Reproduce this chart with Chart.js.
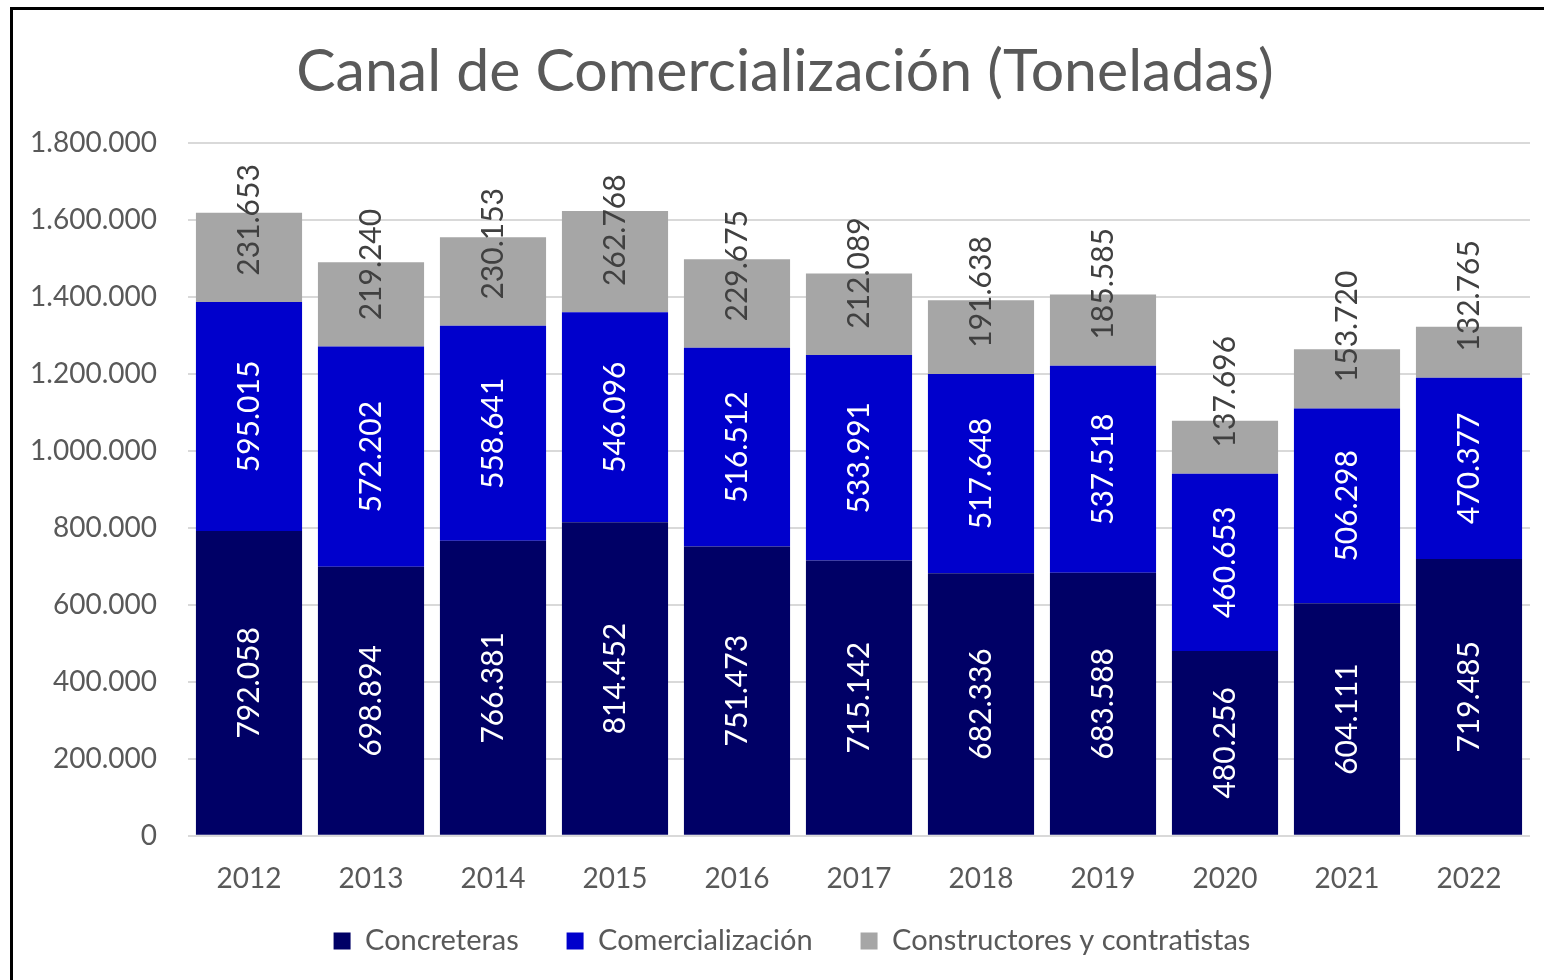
<!DOCTYPE html>
<html>
<head>
<meta charset="utf-8">
<script src="https://cdn.jsdelivr.net/npm/chart.js@4"></script>
<style>
  html, body { margin: 0; padding: 0; background: #fff; overflow: hidden; }
  #wrap { position: absolute; left: 0; top: 0; width: 1570px; height: 980px; }
  #frame { position: absolute; left: 10px; top: 7px; width: 2000px; height: 2000px;
           border-top: 3px solid #000; border-left: 3px solid #000; pointer-events: none; }
</style>
</head>
<body>
<div id="wrap"><canvas id="canalChart" width="1570" height="980"></canvas></div>
<div id="frame"></div>
<script>
const years = ['2012', '2013', '2014', '2015', '2016', '2017', '2018', '2019', '2020', '2021', '2022'];
const concreteras = [792058, 698894, 766381, 814452, 751473, 715142, 682336, 683588, 480256, 604111, 719485];
const comercializacion = [595015, 572202, 558641, 546096, 516512, 533991, 517648, 537518, 460653, 506298, 470377];
const constructores = [231653, 219240, 230153, 262768, 229675, 212089, 191638, 185585, 137696, 153720, 132765];

const FONT = 'Lato, "Open Sans", sans-serif';

// miles con punto: 1.800.000
function fmt(v) {
    return String(Math.round(v)).replace(/\B(?=(\d{3})+(?!\d))/g, '.');
}

// etiquetas de datos verticales dentro de cada segmento
const barLabels = {
    id: 'barLabels',
    afterDatasetsDraw(chart) {
        const ctx = chart.ctx;
        chart.data.datasets.forEach((ds, i) => {
            const meta = chart.getDatasetMeta(i);
            meta.data.forEach((bar, j) => {
                let cy = (bar.y + bar.base) / 2;
                if (i === 2) cy = bar.base - 82;
                ctx.save();
                ctx.translate(bar.x, cy);
                ctx.rotate(-Math.PI / 2);
                ctx.font = '30px ' + FONT;
                ctx.fillStyle = i === 2 ? '#404040' : '#ffffff';
                ctx.textAlign = 'center';
                ctx.textBaseline = 'middle';
                ctx.fillText(fmt(ds.data[j]), 0, 0);
                ctx.restore();
            });
        });
    }
};

// centra título y leyenda como en el original (un poco a la derecha)
const shiftBoxes = {
    id: 'shiftBoxes',
    afterLayout(chart) {
        if (chart.titleBlock) { chart.titleBlock.left += 8; chart.titleBlock.right += 8; }
        if (chart.legend) { chart.legend.left += 15; chart.legend.right += 15; }
    }
};

const ctx = document.getElementById('canalChart').getContext('2d');
const canalChart = new Chart(ctx, {
    type: 'bar',
    data: {
        labels: years,
        datasets: [
            { label: 'Concreteras', data: concreteras, backgroundColor: '#000066' },
            { label: 'Comercialización', data: comercializacion, backgroundColor: '#0000CC' },
            { label: 'Constructores y contratistas', data: constructores, backgroundColor: '#A6A6A6' }
        ]
    },
    options: {
        responsive: false,
        animation: false,
        layout: { padding: { left: 24, right: 40, top: 0, bottom: 14.6 } },
        datasets: { bar: { barPercentage: 0.87, categoryPercentage: 1.0 } },
        plugins: {
            title: {
                display: true,
                text: 'Canal de Comercialización (Toneladas)',
                color: '#595959',
                font: { family: FONT, size: 59, weight: 'normal' },
                padding: { top: 37, bottom: 35.2 }
            },
            legend: {
                position: 'bottom',
                labels: {
                    color: '#595959',
                    font: { family: FONT, size: 29 },
                    boxWidth: 17,
                    boxHeight: 17,
                    padding: 33,
                    generateLabels(chart) {
                        const items = Chart.defaults.plugins.legend.labels.generateLabels(chart);
                        items.forEach((it, k) => {
                            if (k < items.length - 1) it.text = it.text + '  ';
                            it.lineWidth = 0;
                        });
                        return items;
                    }
                }
            },
            tooltip: { enabled: false }
        },
        scales: {
            x: {
                stacked: true,
                grid: { display: false, drawTicks: false },
                border: { display: false },
                ticks: { color: '#595959', font: { family: FONT, size: 28 }, padding: 26 },
                afterFit(axis) { axis.height -= 28; }
            },
            y: {
                stacked: true,
                min: 0,
                max: 1800000,
                grid: { color: '#D9D9D9', lineWidth: 2, drawTicks: false },
                border: { display: false },
                ticks: {
                    stepSize: 200000,
                    color: '#595959',
                    font: { family: FONT, size: 28 },
                    padding: 31,
                    callback: v => fmt(v)
                },
                afterFit(axis) { axis.width = 164; }
            }
        }
    },
    plugins: [barLabels, shiftBoxes]
});
</script>
</body>
</html>
